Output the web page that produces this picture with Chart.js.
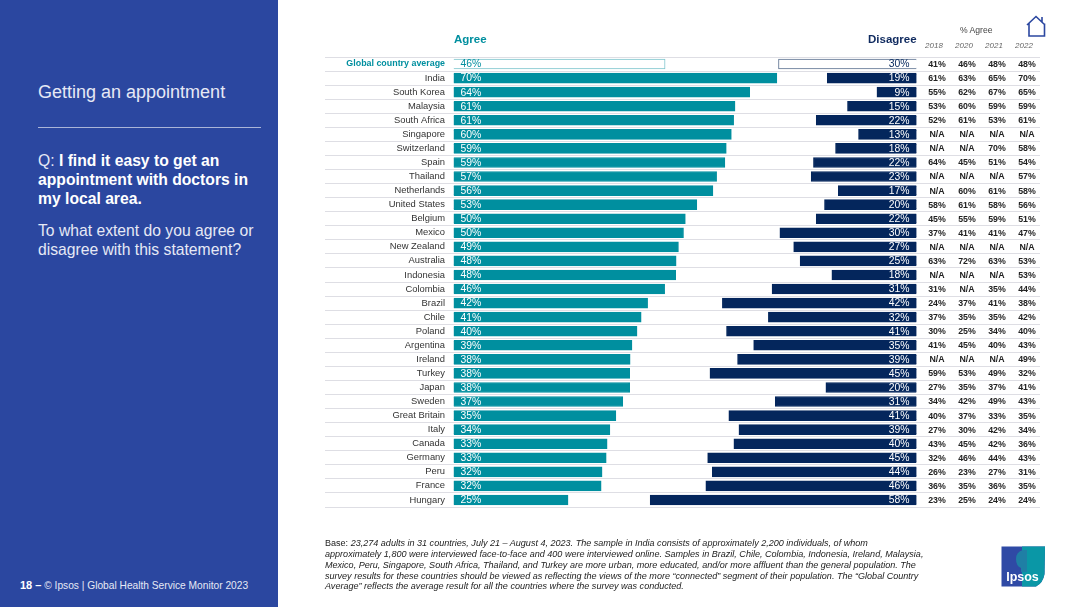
<!DOCTYPE html>
<html>
<head>
<meta charset="utf-8">
<script src="https://cdn.jsdelivr.net/npm/chart.js@4"></script>
<style>
  html, body { margin: 0; padding: 0; background: #fff; }
  body { width: 1080px; height: 607px; position: relative; overflow: hidden; font-family: "Liberation Sans", Arial, sans-serif; }
  #side { position: absolute; left: 0; top: 0; width: 278px; height: 607px; background: #2b47a0; color: #e6e9f5; }
  #side div { position: absolute; left: 38px; white-space: nowrap; }
  #title { top: 81px; font-size: 18px; line-height: 22px; }
  #rule { top: 127px; width: 223px; height: 1px; background: #aab5d8; }
  #q { top: 151px; font-size: 15.7px; line-height: 19px; }
  #q b { color: #fff; }
  #ask { top: 221px; font-size: 15.7px; line-height: 19px; }
  #side #foot { left: 20px; top: 579px; font-size: 10.2px; }
  #foot b { color: #fff; font-size: 11px; }
  #chartBox { position: absolute; left: 0; top: 0; width: 1080px; height: 607px; }
  .head { position: absolute; font-weight: bold; font-size: 11.5px; white-space: nowrap; }
  #agreeHead { left: 454px; top: 33px; color: #008f9f; }
  #disagreeHead { left: 868px; top: 33px; color: #0f2a5f; }
  #pctHead { position: absolute; left: 960px; top: 25px; font-size: 8.6px; color: #444; white-space: nowrap; }
  #base { position: absolute; left: 325px; top: 538px; width: 640px; font-size: 9.05px; line-height: 10.85px; color: #222; font-style: italic; white-space: nowrap; }
  #base span { font-style: normal; }
  #home { position: absolute; left: 1025px; top: 14px; }
  #logo { position: absolute; left: 1001px; top: 546px; }
</style>
</head>
<body>
<div id="chartBox"><canvas id="chart" width="1080" height="607"></canvas></div>
<div id="side">
  <div id="title">Getting an appointment</div>
  <div id="rule"></div>
  <div id="q">Q: <b>I find it easy to get an<br>appointment with doctors in<br>my local area.</b></div>
  <div id="ask">To what extent do you agree or<br>disagree with this statement?</div>
  <div id="foot"><b>18 –</b> © Ipsos | Global Health Service Monitor 2023</div>
</div>
<div class="head" id="agreeHead">Agree</div>
<div class="head" id="disagreeHead">Disagree</div>
<div id="pctHead">% Agree</div>
<svg id="home" width="22" height="24" viewBox="0 0 22 24" fill="none" stroke="#2b47a0" stroke-width="1.6">
  <path d="M2 11 L11 2.5 L20 11 M4 9.5 V22 H19.5 V9.5 M17 3 V8"/>
</svg>
<div id="base"><span>Base:</span> 23,274 adults in 31 countries, July 21 – August 4, 2023. The sample in India consists of approximately 2,200 individuals, of whom<br>approximately 1,800 were interviewed face-to-face and 400 were interviewed online. Samples in Brazil, Chile, Colombia, Indonesia, Ireland, Malaysia,<br>Mexico, Peru, Singapore, South Africa, Thailand, and Turkey are more urban, more educated, and/or more affluent than the general population. The<br>survey results for these countries should be viewed as reflecting the views of the more “connected” segment of their population. The “Global Country<br>Average” reflects the average result for all the countries where the survey was conducted.</div>
<svg id="logo" width="45" height="41" viewBox="0 0 45 41">
  <path d="M0.5 0.5 H44 L43.5 28 Q42 37 35 40.5 H0.5 Z" fill="#2f4aa5"/>
  <path d="M21 0.5 H44 L43.5 28 Q42 37 35 40.5 H21 Z" fill="#0a97a6"/>
  <path d="M22 4 Q15 6 15 13 Q15 20 20 22 V26 H26 V4 Z" fill="#1f7fa5"/>
  <text x="21.5" y="35" text-anchor="middle" font-family="Liberation Sans" font-weight="bold" font-size="12.5" fill="#fff">Ipsos</text>
</svg>
<script>
const countries = ['Global country average', 'India', 'South Korea', 'Malaysia', 'South Africa', 'Singapore', 'Switzerland', 'Spain', 'Thailand', 'Netherlands', 'United States', 'Belgium', 'Mexico', 'New Zealand', 'Australia', 'Indonesia', 'Colombia', 'Brazil', 'Chile', 'Poland', 'Argentina', 'Ireland', 'Turkey', 'Japan', 'Sweden', 'Great Britain', 'Italy', 'Canada', 'Germany', 'Peru', 'France', 'Hungary'];
const agree = [46, 70.3, 64.4, 61.2, 60.9, 60.4, 59.3, 59, 57.2, 56.4, 52.9, 50.4, 50, 48.9, 48.4, 48.3, 45.9, 42.2, 40.8, 39.9, 38.8, 38.4, 38.3, 38.3, 36.8, 35.3, 34, 33.4, 33.2, 32.3, 32.1, 24.9];
const disagree = [30, 19.4, 8.6, 15, 21.8, 12.6, 17.6, 22.4, 22.9, 17, 20, 21.8, 29.7, 26.7, 25.3, 18.4, 31.4, 42.2, 32.2, 41.3, 35.4, 38.9, 44.9, 19.7, 30.7, 40.8, 38.6, 39.7, 45.4, 44.4, 45.8, 57.9];
const years = ['2018', '2020', '2021', '2022'];
const y2018 = ['41%', '61%', '55%', '53%', '52%', 'N/A', 'N/A', '64%', 'N/A', 'N/A', '58%', '45%', '37%', 'N/A', '63%', 'N/A', '31%', '24%', '37%', '30%', '41%', 'N/A', '59%', '27%', '34%', '40%', '27%', '43%', '32%', '26%', '36%', '23%'];
const y2020 = ['46%', '63%', '62%', '60%', '61%', 'N/A', 'N/A', '45%', 'N/A', '60%', '61%', '55%', '41%', 'N/A', '72%', 'N/A', 'N/A', '37%', '35%', '25%', '45%', 'N/A', '53%', '35%', '42%', '37%', '30%', '45%', '46%', '23%', '35%', '25%'];
const y2021 = ['48%', '65%', '67%', '59%', '53%', 'N/A', '70%', '51%', 'N/A', '61%', '58%', '59%', '41%', 'N/A', '63%', 'N/A', '35%', '41%', '35%', '34%', '40%', 'N/A', '49%', '37%', '49%', '33%', '42%', '42%', '44%', '27%', '36%', '24%'];
const y2022 = ['48%', '70%', '65%', '59%', '61%', 'N/A', '58%', '54%', '57%', '58%', '56%', '51%', '47%', 'N/A', '53%', '53%', '44%', '38%', '42%', '40%', '43%', '49%', '32%', '41%', '43%', '35%', '34%', '36%', '43%', '31%', '35%', '24%'];
const yearColumns = [y2018, y2020, y2021, y2022];
const yearX = [937, 967, 997, 1027];

// bars are drawn into a plot that runs on to the right, so row lines pass under the table
const TEAL = '#008f9f';
const NAVY = '#04265c';
const PX_PER_UNIT = 4.6;
const AXIS_LEFT = 325;
const PLOT_LEFT = 453.5;
const PLOT_RIGHT = 1040;
const DISAGREE_ZERO = 916.5;

const rowText = {
  id: 'rowText',
  afterDatasetsDraw(chart) {
    const { ctx } = chart;
    ctx.save();
    ctx.textBaseline = 'middle';
    ctx.font = '10.4px "Liberation Sans"';
    chart.getDatasetMeta(0).data.forEach((bar, i) => {
      ctx.textAlign = 'left';
      ctx.fillStyle = i === 0 ? TEAL : '#fff';
      ctx.fillText(Math.round(agree[i]) + '%', bar.base + 7, bar.y + 0.5);
    });
    chart.getDatasetMeta(1).data.forEach((bar, i) => {
      ctx.textAlign = 'right';
      ctx.fillStyle = i === 0 ? NAVY : '#fff';
      ctx.fillText(Math.round(disagree[i]) + '%', bar.base - 7, bar.y + 0.5);
    });
    const y = chart.scales.y;
    ctx.textAlign = 'center';
    ctx.fillStyle = '#222';
    ctx.font = 'bold 8.8px "Liberation Sans"';
    yearColumns.forEach((col, c) => {
      col.forEach((txt, i) => ctx.fillText(txt, yearX[c], y.getPixelForValue(i) + 0.5));
    });
    ctx.font = 'italic 8px "Liberation Sans"';
    ctx.fillStyle = '#666';
    years.forEach((yr, c) => ctx.fillText(yr, yearX[c] - 3, 46));
    ctx.restore();
  }
};

new Chart(document.getElementById('chart'), {
  type: 'bar',
  data: {
    labels: countries,
    datasets: [
      {
        label: 'Agree',
        data: agree,
        xAxisID: 'x',
        barThickness: 10,
        grouped: false,
        backgroundColor: (c) => (c.dataIndex === 0 ? '#fff' : TEAL),
        borderColor: (c) => (c.dataIndex === 0 ? '#7cc4cc' : TEAL),
        borderWidth: 1,
      },
      {
        label: 'Disagree',
        data: disagree,
        xAxisID: 'x2',
        barThickness: 10,
        grouped: false,
        backgroundColor: (c) => (c.dataIndex === 0 ? '#fff' : NAVY),
        borderColor: (c) => (c.dataIndex === 0 ? '#5d7290' : NAVY),
        borderWidth: 1,
      },
    ],
  },
  options: {
    responsive: false,
    animation: false,
    indexAxis: 'y',
    layout: { padding: { left: AXIS_LEFT, right: 1080 - PLOT_RIGHT, top: 57, bottom: 100 } },
    plugins: { legend: { display: false }, tooltip: { enabled: false } },
    scales: {
      x: {
        display: false,
        min: 0,
        max: (PLOT_RIGHT - PLOT_LEFT) / PX_PER_UNIT,
      },
      x2: {
        display: false,
        reverse: true,
        min: (DISAGREE_ZERO - PLOT_RIGHT) / PX_PER_UNIT,
        max: (DISAGREE_ZERO - PLOT_LEFT) / PX_PER_UNIT,
      },
      y: {
        afterFit: (axis) => { axis.width = PLOT_LEFT - AXIS_LEFT; },
        border: { display: false },
        grid: { color: '#dedee4', lineWidth: 1, tickLength: PLOT_LEFT - AXIS_LEFT, drawTicks: true },
        ticks: {
          autoSkip: false,
          padding: -120,
          color: (c) => (c.index === 0 ? TEAL : '#333'),
          font: (c) => (c.index === 0
            ? { family: 'Liberation Sans', size: 8.9, weight: 'bold' }
            : { family: 'Liberation Sans', size: 9.4 }),
        },
      },
    },
  },
  plugins: [rowText],
});
</script>
</body>
</html>
